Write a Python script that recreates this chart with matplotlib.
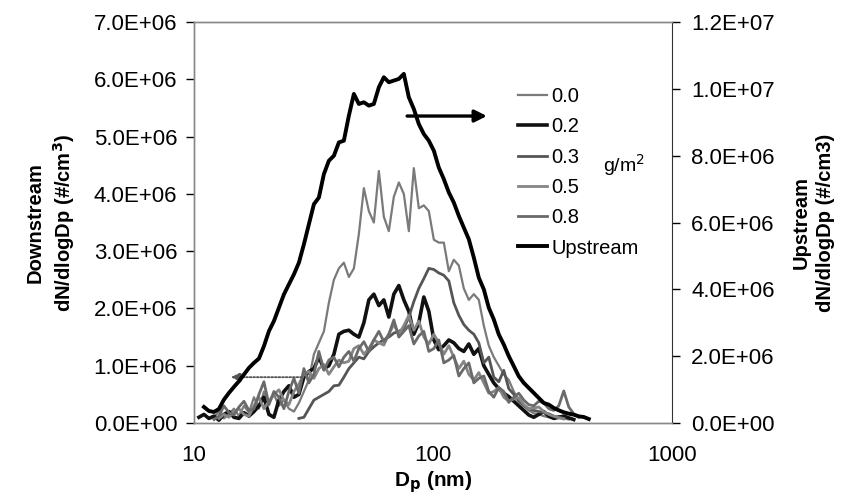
import numpy as np
import matplotlib
matplotlib.use("Agg")
import matplotlib.pyplot as plt
from matplotlib.ticker import FixedLocator, FuncFormatter, NullLocator

plt.rcParams['font.family'] = ['Liberation Sans', 'DejaVu Sans']

nan = np.nan

# particle diameter channels (nm)
dp = [10.49, 11.01, 11.55, 12.13, 12.72, 13.35, 14.01, 14.70, 15.43, 16.19,
      16.99, 17.83, 18.71, 19.63, 20.60, 21.61, 22.68, 23.80, 24.97, 26.21,
      27.50, 28.86, 30.28, 31.78, 33.34, 34.99, 36.71, 38.53, 40.43, 42.42,
      44.52, 46.72, 49.02, 51.44, 53.98, 56.64, 59.44, 62.37, 65.44, 68.68,
      72.07, 75.62, 79.35, 83.27, 87.38, 91.69, 96.22, 101.0, 105.9, 111.2,
      116.7, 122.4, 128.5, 134.8, 141.5, 148.5, 155.8, 163.5, 171.5, 180.0,
      188.9, 198.2, 208.0, 218.3, 229.0, 240.4, 252.2, 264.7, 277.7, 291.4,
      305.8, 320.9, 336.8, 353.4, 370.8, 389.1, 408.4, 428.5, 449.7, 471.9]

# downstream dN/dlogDp, 1e6 #/cm3 (left axis)
load_00 = [nan, nan, nan, 0.10, 0.20, 0.08, 0.15, 0.25, 0.12, 0.30,
           0.18, 0.45, 0.25, 0.55, 0.35, 0.50, 0.30, 0.40, 0.25, 0.20,
           0.35, 0.55, 0.75, 1.20, 1.40, 1.60, 2.10, 2.50, 2.70, 2.80,
           2.55, 2.70, 3.30, 4.10, 3.70, 3.50, 4.40, 3.60, 3.35, 3.95,
           4.20, 4.00, 3.35, 4.45, 3.75, 3.80, 3.70, 3.20, 3.15, 3.15,
           2.65, 2.85, 2.75, 2.35, 2.15, 2.25, 2.15, 1.70, 1.35, 1.15,
           1.00, 0.85, 0.75, 0.55, 0.40, 0.30, 0.22, 0.17, 0.15, 0.12,
           0.10, 0.09, 0.12, 0.08, 0.06, nan, nan, nan, nan, nan]
load_02 = [0.10, 0.15, 0.08, 0.12, 0.05, 0.15, 0.20, 0.10, 0.08, 0.18,
           0.12, 0.20, 0.30, 0.45, 0.15, 0.10, 0.40, 0.55, 0.65, 0.45,
           0.50, 0.80, 0.90, 0.95, 1.15, 0.95, 1.00, 1.20, 1.55, 1.60,
           1.62, 1.55, 1.50, 1.75, 2.15, 2.25, 2.05, 2.15, 1.85, 2.25,
           2.40, 2.15, 1.95, 1.55, 1.75, 2.20, 1.95, 1.45, 1.28, 1.35,
           1.45, 1.40, 1.30, 1.25, 1.38, 1.20, 1.30, 1.00, 0.85, 0.70,
           0.60, 0.52, 0.46, 0.38, 0.30, 0.22, 0.14, 0.10, 0.15, 0.20,
           0.12, 0.08, 0.10, 0.12, 0.09, 0.06, nan, nan, nan, nan]
load_03 = [nan, nan, nan, nan, nan, nan, nan, nan, nan, nan,
           nan, nan, nan, nan, nan, nan, nan, nan, nan, nan,
           0.08, 0.10, 0.25, 0.40, 0.45, 0.50, 0.55, 0.65, 0.66, 0.80,
           0.95, 1.05, 1.15, 1.12, 1.25, 1.33, 1.40, 1.45, 1.50, 1.57,
           1.60, 1.65, 1.85, 2.12, 2.35, 2.52, 2.70, 2.68, 2.62, 2.58,
           2.48, 2.10, 1.88, 1.72, 1.62, 1.55, 1.40, 1.05, 1.15, 0.80,
           0.72, 0.92, 0.60, 0.50, 0.38, 0.30, 0.25, 0.22, 0.20, 0.18,
           0.16, 0.12, 0.10, 0.08, nan, nan, nan, nan, nan, nan]
load_05 = [nan, nan, nan, nan, 0.08, 0.15, 0.10, 0.20, 0.25, 0.15,
           0.12, 0.30, 0.45, 0.25, 0.38, 0.50, 0.58, 0.40, 0.32, 0.55,
           0.68, 0.85, 0.90, 0.78, 0.95, 1.02, 0.85, 0.98, 1.10, 1.05,
           1.08, 1.30, 1.35, 1.20, 1.30, 1.45, 1.40, 1.36, 1.55, 1.72,
           1.55, 1.70, 1.88, 1.62, 1.78, 1.50, 1.38, 1.55, 1.40, 1.20,
           1.35, 1.15, 0.95, 1.08, 0.85, 0.75, 0.88, 0.70, 0.52, 0.55,
           0.62, 0.45, 0.38, 0.42, 0.44, 0.32, 0.25, 0.26, 0.28, 0.20,
           0.15, 0.12, 0.09, 0.07, nan, nan, nan, nan, nan, nan]
load_08 = [nan, nan, nan, 0.06, 0.12, 0.30, 0.18, 0.14, 0.28, 0.38,
           0.22, 0.25, 0.50, 0.72, 0.32, 0.55, 0.45, 0.25, 0.55, 0.78,
           0.52, 0.95, 0.70, 0.85, 1.25, 0.92, 1.10, 1.15, 0.98, 1.15,
           1.25, 1.08, 1.30, 1.42, 1.25, 1.45, 1.60, 1.42, 1.55, 1.80,
           1.50, 1.60, 1.70, 1.38, 1.52, 1.60, 1.25, 1.30, 1.45, 1.05,
           1.10, 1.18, 0.82, 0.95, 1.05, 0.70, 0.78, 0.82, 0.55, 0.45,
           0.62, 0.55, 0.36, 0.45, 0.52, 0.40, 0.32, 0.30, 0.38, 0.35,
           0.25, 0.22, 0.30, 0.56, 0.28, 0.16, 0.10, nan, nan, nan]

# upstream dN/dlogDp, 1e6 #/cm3 (right axis)
upstream = [nan, 0.48, 0.36, 0.33, 0.42, 0.70, 0.90, 1.08, 1.25, 1.45,
            1.65, 1.80, 1.93, 2.30, 2.75, 3.05, 3.45, 3.85, 4.15, 4.45,
            4.80, 5.35, 5.95, 6.55, 6.75, 7.45, 7.85, 8.00, 8.40, 8.45,
            9.20, 9.85, 9.55, 9.60, 9.50, 9.55, 10.05, 10.35, 10.20, 10.25,
            10.30, 10.45, 9.75, 9.40, 8.95, 8.65, 8.45, 8.15, 7.65, 7.30,
            6.90, 6.60, 6.20, 5.85, 5.50, 4.95, 4.35, 4.00, 3.45, 3.10,
            2.65, 2.35, 2.00, 1.70, 1.40, 1.20, 1.05, 0.90, 0.75, 0.60,
            0.55, 0.45, 0.38, 0.32, 0.28, 0.25, 0.20, 0.18, 0.12, nan]

labels = ["0.0", "0.2", "0.3", "0.5", "0.8"]
series = [load_00, load_02, load_03, load_05, load_08]
colors = ["#7a7a7a", "#111111", "#555555", "#858585", "#6a6a6a"]
widths = [1.6, 2.6, 2.0, 2.0, 2.0]

fig = plt.figure(figsize=(8.47, 4.98), dpi=100)
ax = fig.add_axes([0.229, 0.1506, 0.564, 0.805])
ax2 = ax.twinx()

dp = np.array(dp)
handles = []
for lab, s, c, w in zip(labels, series, colors, widths):
    h, = ax.plot(dp, np.array(s) * 1e6, color=c, lw=w, label=lab)
    handles.append(h)
h, = ax2.plot(dp, np.array(upstream) * 1e6, color="black", lw=2.8, label="Upstream")
handles.append(h)

ax.set_xscale("log")
ax.set_xlim(10, 1000)
ax.set_ylim(0, 7e6)
ax2.set_ylim(0, 1.2e7)
ax.xaxis.set_major_locator(FixedLocator([10, 100, 1000]))
ax.xaxis.set_minor_locator(NullLocator())
ax.xaxis.set_major_formatter(FuncFormatter(lambda v, p: "%d" % v))
ax.set_yticks(np.arange(0, 7.01e6, 1e6))
ax2.set_yticks(np.arange(0, 1.201e7, 2e6))
fmt = FuncFormatter(lambda v, p: "{:.1E}".format(v))
ax.yaxis.set_major_formatter(fmt)
ax2.yaxis.set_major_formatter(fmt)

ax.tick_params(axis="x", length=0, pad=16, labelsize=16)
ax.tick_params(axis="y", direction="out", length=6, width=1, pad=6, labelsize=16)
ax2.tick_params(axis="y", direction="out", length=6, width=1, pad=8, labelsize=16)

for a in (ax, ax2):
    for sp in ("top", "bottom", "left"):
        a.spines[sp].set_color("#888888")
        a.spines[sp].set_linestyle((0, (1, 1)))
        a.spines[sp].set_linewidth(1)
ax2.spines["right"].set_color("#333333")
ax.spines["right"].set_visible(False)

ax.set_xlabel("D$_\\mathbf{p}$ (nm)", fontsize=15, fontweight="bold", labelpad=2)
ax.set_ylabel("Downstream\ndN/dlogDp (#/cm$^\\mathbf{3}$)", fontsize=14.5,
              fontweight="bold", labelpad=12, linespacing=1.35)
ax2.set_ylabel("Upstream\ndN/dlogDp (#/cm3)", fontsize=14.5, fontweight="bold",
               labelpad=12, linespacing=1.35)

ax.legend(handles=handles, loc="upper left", bbox_to_anchor=(0.612, 0.825),
          bbox_transform=fig.transFigure, frameon=False, fontsize=14.5,
          handlelength=1.4, handletextpad=0.25, labelspacing=0.56,
          borderpad=0, borderaxespad=0)
fig.text(0.712, 0.655, "g/m$^2$", fontsize=14)

# arrows pointing to the axis each group belongs to
ax.annotate("", xy=(173, 5.36e6), xytext=(76, 5.36e6),
            arrowprops=dict(arrowstyle="-|>", color="black", lw=2.4,
                            mutation_scale=18))
ax.annotate("", xy=(13.9, 0.80e6), xytext=(29.1, 0.80e6),
            arrowprops=dict(arrowstyle="-|>", color="#555555", lw=1.3,
                            linestyle=(0, (1, 1)), mutation_scale=14))

plt.savefig("out.png", dpi=100)
